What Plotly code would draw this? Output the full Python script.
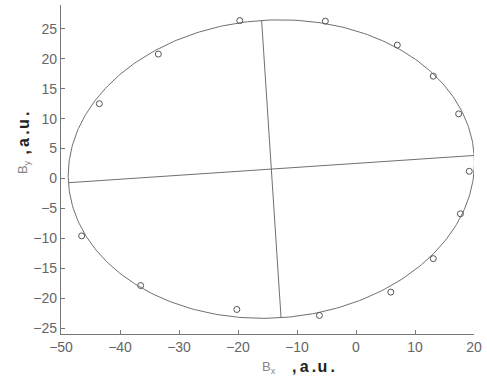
import numpy as np
import plotly.graph_objects as go

# measured data points (Bx, By)
bx = [-43.5, -33.5, -19.7, -5.2, 7.0, 13.1, 17.4, 19.2, 17.7, 13.1, 5.9, -6.2, -20.2, -36.5, -46.5]
by = [12.5, 20.8, 26.4, 26.3, 22.3, 17.1, 10.8, 1.2, -5.9, -13.4, -19.0, -22.9, -21.9, -17.9, -9.6]

# fitted ellipse parameters
center_x = -14.35
center_y = 1.57
semi_major = 34.46
semi_minor = 24.9
angle_deg = 3.79

x_ticks = [-50, -40, -30, -20, -10, 0, 10, 20]
y_ticks = [-25, -20, -15, -10, -5, 0, 5, 10, 15, 20, 25]

th = np.deg2rad(angle_deg)
t = np.linspace(0, 2 * np.pi, 361)
ex = center_x + semi_major * np.cos(t) * np.cos(th) - semi_minor * np.sin(t) * np.sin(th)
ey = center_y + semi_major * np.cos(t) * np.sin(th) + semi_minor * np.sin(t) * np.cos(th)

# axes of the ellipse
maj_x = [center_x - semi_major * np.cos(th), center_x + semi_major * np.cos(th)]
maj_y = [center_y - semi_major * np.sin(th), center_y + semi_major * np.sin(th)]
min_x = [center_x + semi_minor * np.sin(th), center_x - semi_minor * np.sin(th)]
min_y = [center_y - semi_minor * np.cos(th), center_y + semi_minor * np.cos(th)]

line_col = "#707070"
fig = go.Figure()
fig.add_trace(go.Scatter(x=ex, y=ey, mode="lines", line=dict(color=line_col, width=1), hoverinfo="skip"))
fig.add_trace(go.Scatter(x=maj_x, y=maj_y, mode="lines", line=dict(color=line_col, width=1)))
fig.add_trace(go.Scatter(x=min_x, y=min_y, mode="lines", line=dict(color=line_col, width=1)))
fig.add_trace(go.Scatter(x=bx, y=by, mode="markers",
                         marker=dict(symbol="circle-open", size=6, color="#555555", line=dict(width=1))))

axis_common = dict(showgrid=False, zeroline=False, showline=True, linecolor="#777777", linewidth=1.2,
                   ticks="inside", ticklen=4, tickcolor="#777777", mirror=False,
                   tickfont=dict(family="Liberation Sans, Arial", size=14, color="#666666"))
fig.update_xaxes(range=[-50, 20], tickvals=x_ticks, **axis_common)
fig.update_yaxes(range=[-26, 29], tickvals=y_ticks, **axis_common)

unit_text = "<b>,\u2009a\u2009.\u200au\u2009.</b>"
fig.update_layout(
    width=487, height=382, margin=dict(l=61, r=8, t=5, b=48),
    plot_bgcolor="white", paper_bgcolor="white", showlegend=False,
    font=dict(family="Liberation Sans, Arial"),
    annotations=[
        dict(text="B<sub>x</sub>", font=dict(size=13, color="#888888"),
             xref="paper", yref="paper", x=(262 - 61) / 418, y=-(357 - 334) / 329,
             xanchor="left", yanchor="top", showarrow=False),
        dict(text=unit_text, font=dict(size=16, color="#222222"),
             xref="paper", yref="paper", x=(293 - 61) / 418, y=-(356 - 334) / 329,
             xanchor="left", yanchor="top", showarrow=False),
        dict(text="B<sub>y</sub>", font=dict(size=13, color="#888888"),
             xref="paper", yref="paper", x=-(61 - 12) / 418, y=(334 - 176) / 329,
             xanchor="left", yanchor="bottom", textangle=-90, showarrow=False),
        dict(text=unit_text, font=dict(size=16, color="#222222"),
             xref="paper", yref="paper", x=-(61 - 12) / 418, y=(334 - 157) / 329,
             xanchor="left", yanchor="bottom", textangle=-90, showarrow=False),
    ],
)
fig.write_html("out.html")
